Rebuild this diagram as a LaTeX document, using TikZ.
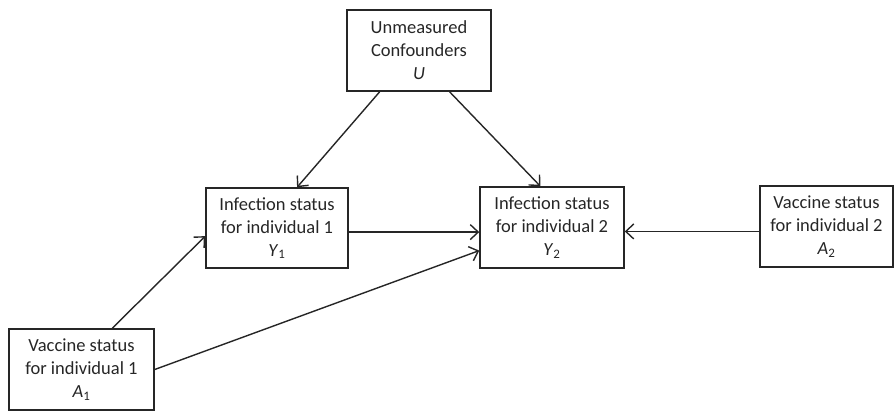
\documentclass[tikz,border=0pt]{standalone}
\usepackage{fontspec}
\setmainfont{Carlito}
\usetikzlibrary{arrows.meta,calc}
\begin{document}
\begin{tikzpicture}[x=1pt,y=-1pt,
  box/.style={draw=black!85,line width=1.5pt,rectangle,align=center,inner sep=0pt,
    font=\fontsize{18.5}{23}\selectfont,text=black!85},
  arr/.style={draw=black!85,line width=1.4pt,-{Straight Barb[length=8pt,width=15pt,line width=1.4pt]}}]
\useasboundingbox (0,0) rectangle (894,411);
\node[box,minimum width=144pt,minimum height=81pt] (U) at (419,50.5) {Unmeasured\\Confounders\\\textit{U}};
\node[box,minimum width=142pt,minimum height=80pt] (Y1) at (277,228) {Infection status\\for individual 1\\\textit{Y}\textsubscript{1}};
\node[box,minimum width=144pt,minimum height=81pt] (Y2) at (552,227.5) {Infection status\\for individual 2\\\textit{Y}\textsubscript{2}};
\node[box,minimum width=133pt,minimum height=81pt] (A2) at (826.5,226.5) {Vaccine status\\for individual 2\\\textit{A}\textsubscript{2}};
\node[box,minimum width=145pt,minimum height=81pt] (A1) at (81.5,369.5) {Vaccine status\\for individual 1\\\textit{A}\textsubscript{1}};
\draw[arr] ($(U.south west)!0.23!(U.south east)$) -- ($(Y1.north west)!0.64!(Y1.north east)$);
\draw[arr] ($(U.south west)!0.71!(U.south east)$) -- ($(Y2.north west)!0.42!(Y2.north east)$);
\coordinate (m1) at ($(Y1.north east)!0.55!(Y1.south east)$);
\draw[arr] (m1) -- (m1 -| Y2.west);
\coordinate (m2) at ($(A2.north west)!0.56!(A2.south west)$);
\draw[arr] (m2) -- (m2 -| Y2.east);
\draw[arr] ($(A1.north west)!0.71!(A1.north east)$) -- ($(Y1.north west)!0.6!(Y1.south west)$);
\draw[arr] (A1.east) -- ($(Y2.north west)!0.78!(Y2.south west)$);
\end{tikzpicture}
\end{document}
